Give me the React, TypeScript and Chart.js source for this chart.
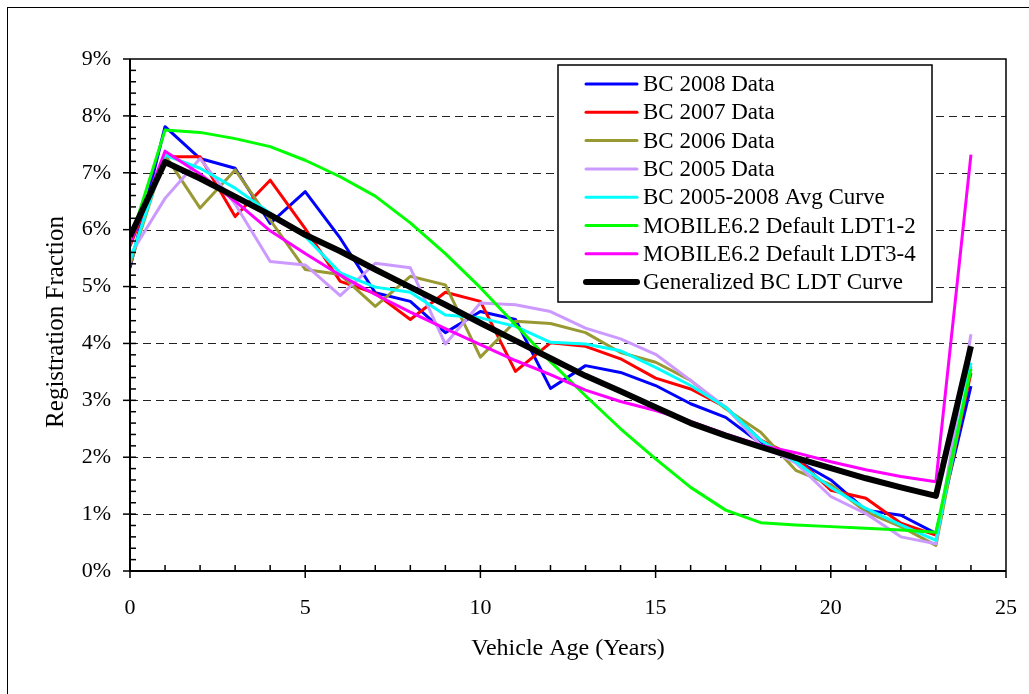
import React, { useEffect, useRef } from 'react';
import { Chart, registerables } from 'chart.js';

Chart.register(...registerables);

// Vehicle age in years
const ages = [0, 1, 2, 3, 4, 5, 6, 7, 8, 9, 10, 11, 12, 13, 14, 15, 16, 17, 18, 19, 20, 21, 22, 23, 24];

// Registration fraction (%) by vehicle age
const bc2008 = [5.33, 7.81, 7.25, 7.08, 6.11, 6.67, 5.85, 4.89, 4.74, 4.19, 4.56, 4.42, 3.21, 3.61, 3.49, 3.26, 2.94, 2.70, 2.24, 1.95, 1.60, 1.07, 0.98, 0.66, 3.25];
const bc2007 = [5.71, 7.28, 7.28, 6.23, 6.87, 6.02, 5.09, 4.88, 4.42, 4.90, 4.74, 3.51, 4.01, 3.95, 3.73, 3.39, 3.20, 2.88, 2.30, 2.00, 1.42, 1.28, 0.84, 0.63, 3.48];
const bc2006 = [5.38, 7.31, 6.38, 7.05, 6.17, 5.30, 5.21, 4.65, 5.18, 5.03, 3.76, 4.39, 4.35, 4.19, 3.84, 3.67, 3.35, 2.85, 2.44, 1.77, 1.52, 1.04, 0.78, 0.45, 3.60];
const bc2005 = [5.55, 6.55, 7.25, 6.45, 5.44, 5.38, 4.84, 5.41, 5.33, 3.99, 4.71, 4.68, 4.56, 4.27, 4.08, 3.81, 3.35, 2.88, 2.21, 1.90, 1.31, 1.01, 0.60, 0.48, 4.16];
const bcAvgCurve = [5.45, 7.31, 7.08, 6.73, 6.29, 5.88, 5.24, 4.99, 4.90, 4.50, 4.45, 4.30, 4.02, 3.99, 3.87, 3.58, 3.26, 2.88, 2.30, 1.92, 1.47, 1.10, 0.81, 0.54, 3.66];
const mobileLdt12 = [5.79, 7.75, 7.71, 7.60, 7.46, 7.22, 6.93, 6.59, 6.12, 5.58, 4.98, 4.33, 3.68, 3.08, 2.50, 1.97, 1.47, 1.07, 0.85, 0.81, 0.78, 0.75, 0.72, 0.68, 3.55];
const mobileLdt34 = [5.75, 7.38, 6.98, 6.50, 5.98, 5.58, 5.20, 4.86, 4.55, 4.26, 3.98, 3.70, 3.45, 3.18, 2.98, 2.82, 2.63, 2.41, 2.21, 2.08, 1.92, 1.78, 1.66, 1.57, 7.32];
const generalizedLdt = [5.88, 7.19, 6.90, 6.58, 6.26, 5.91, 5.62, 5.30, 4.99, 4.68, 4.36, 4.05, 3.74, 3.43, 3.16, 2.88, 2.60, 2.38, 2.18, 1.99, 1.81, 1.63, 1.47, 1.32, 3.95];

const seriesLabels = [
  'BC 2008 Data',
  'BC 2007 Data',
  'BC 2006 Data',
  'BC 2005 Data',
  'BC 2005-2008 Avg Curve',
  'MOBILE6.2 Default LDT1-2',
  'MOBILE6.2 Default LDT3-4',
  'Generalized BC LDT Curve',
];
const seriesValues = [bc2008, bc2007, bc2006, bc2005, bcAvgCurve, mobileLdt12, mobileLdt34, generalizedLdt];
const seriesColors = ['#0000ff', '#ff0000', '#999933', '#cc99ff', '#00ffff', '#00ff00', '#ff00ff', '#000000'];
const seriesWidths = [3, 3, 3, 3, 3, 3, 3, 6];

const yTickLabels = ['0%', '1%', '2%', '3%', '4%', '5%', '6%', '7%', '8%', '9%'];
const yTitle = 'Registration Fraction';
const xTitle = 'Vehicle Age (Years)';

const FONT = '"Liberation Serif", "Times New Roman", serif';

// Dashed gridlines, tick marks, the plot box and the vertical axis title
const axesPlugin = {
  id: 'axesPlugin',
  beforeDatasetsDraw(chart: any) {
    const { ctx, chartArea: a, scales } = chart;
    const y = scales.y;
    ctx.save();
    ctx.strokeStyle = '#222';
    ctx.lineWidth = 1;
    ctx.setLineDash([8, 5]);
    for (let v = 1; v <= 8; v++) {
      const py = Math.round(y.getPixelForValue(v)) + 0.5;
      ctx.beginPath();
      ctx.moveTo(a.left, py);
      ctx.lineTo(a.right, py);
      ctx.stroke();
    }
    ctx.restore();
  },
  afterDatasetsDraw(chart: any) {
    const { ctx, chartArea: a, scales } = chart;
    const x = scales.x;
    const y = scales.y;
    ctx.save();
    ctx.strokeStyle = '#000';
    // top and right edges of the plot box
    ctx.lineWidth = 1.5;
    ctx.beginPath();
    ctx.moveTo(a.left, a.top);
    ctx.lineTo(a.right, a.top);
    ctx.lineTo(a.right, a.bottom);
    ctx.stroke();
    // axis lines
    ctx.lineWidth = 2;
    ctx.beginPath();
    ctx.moveTo(a.left, a.top);
    ctx.lineTo(a.left, a.bottom);
    ctx.lineTo(a.right, a.bottom);
    ctx.stroke();
    // y ticks: majors every 1%, minors every 0.2%
    ctx.lineWidth = 1.5;
    for (let i = 0; i <= 45; i++) {
      const py = y.getPixelForValue(i / 5);
      const major = i % 5 === 0;
      ctx.beginPath();
      ctx.moveTo(major ? a.left - 7 : a.left, py);
      ctx.lineTo(i === 45 ? a.left : a.left + 6, py);
      ctx.stroke();
    }
    // x ticks: majors every 5 years, minors every year
    for (let i = 0; i <= 25; i++) {
      const px = x.getPixelForValue(i);
      const major = i % 5 === 0;
      ctx.beginPath();
      ctx.moveTo(px, major ? a.bottom + 7 : a.bottom);
      ctx.lineTo(px, i === 0 || i === 25 ? a.bottom : a.bottom - 6);
      ctx.stroke();
    }
    // vertical axis title
    ctx.fillStyle = '#000';
    ctx.font = `25px ${FONT}`;
    ctx.textAlign = 'center';
    ctx.textBaseline = 'middle';
    ctx.translate(56, 322);
    ctx.rotate(-Math.PI / 2);
    ctx.fillText(yTitle, 0, 0);
    ctx.restore();
  },
};

// Boxed legend inside the plot area
const legendPlugin = {
  id: 'boxLegend',
  afterDraw(chart: any) {
    const { ctx } = chart;
    const left = 558;
    const top = 65;
    const right = 932;
    const bottom = 302;
    ctx.save();
    ctx.fillStyle = '#fff';
    ctx.fillRect(left, top, right - left, bottom - top);
    ctx.strokeStyle = '#000';
    ctx.lineWidth = 1.5;
    ctx.strokeRect(left, top, right - left, bottom - top);
    ctx.font = `23px ${FONT}`;
    ctx.textBaseline = 'middle';
    ctx.textAlign = 'left';
    chart.data.datasets.forEach((ds: any, i: number) => {
      const cy = 84 + i * 28.3;
      ctx.strokeStyle = ds.borderColor;
      ctx.lineWidth = ds.borderWidth;
      ctx.lineCap = 'round';
      ctx.beginPath();
      ctx.moveTo(586, cy);
      ctx.lineTo(637, cy);
      ctx.stroke();
      ctx.fillStyle = '#000';
      ctx.fillText(ds.label, 643, cy + 1);
    });
    ctx.restore();
  },
};

export default function App() {
  const canvasRef = useRef<HTMLCanvasElement | null>(null);

  useEffect(() => {
    const canvas = canvasRef.current;
    if (!canvas) return;
    const datasets = seriesLabels.map((label, i) => ({
      label,
      data: ages.map((age, j) => ({ x: age, y: seriesValues[i][j] })),
      borderColor: seriesColors[i],
      backgroundColor: seriesColors[i],
      borderWidth: seriesWidths[i],
      pointRadius: 0,
      tension: 0,
      fill: false,
      borderJoinStyle: 'round' as const,
      order: seriesLabels.length - i,
    }));
    const chart = new Chart(canvas, {
      type: 'line',
      data: { datasets },
      options: {
        animation: false,
        responsive: false,
        layout: { padding: { left: 0, top: 59, right: 23, bottom: 0 } },
        plugins: {
          legend: { display: false },
          tooltip: { enabled: false },
        },
        scales: {
          x: {
            type: 'linear',
            min: 0,
            max: 25,
            grid: { display: false, drawTicks: false },
            border: { display: false },
            ticks: {
              stepSize: 5,
              color: '#000',
              padding: 24,
              font: { family: FONT, size: 22 },
            },
            title: {
              display: true,
              text: xTitle,
              color: '#000',
              font: { family: FONT, size: 24 },
              padding: { top: 0, bottom: 31 },
            },
            afterFit: (s: any) => {
              s.height = 123;
              s.paddingLeft = 0;
              s.paddingRight = 0;
            },
          },
          y: {
            type: 'linear',
            min: 0,
            max: 9,
            grid: { display: false, drawTicks: false },
            border: { display: false },
            ticks: {
              stepSize: 1,
              color: '#000',
              padding: 19,
              font: { family: FONT, size: 22 },
              callback: (v: any) => yTickLabels[Math.round(Number(v))],
            },
            title: { display: false },
            afterFit: (s: any) => {
              s.width = 130;
              s.paddingTop = 0;
              s.paddingBottom = 0;
            },
          },
        },
      },
      plugins: [axesPlugin, legendPlugin],
    });
    return () => chart.destroy();
  }, []);

  return (
    <div style={{ position: 'fixed', left: 0, top: 0, width: 1029, height: 694, background: '#fff', overflow: 'hidden' }}>
      <div
        style={{
          position: 'absolute',
          left: 7,
          top: 7,
          width: 1100,
          height: 800,
          border: '1px solid #000',
        }}
      />
      <canvas ref={canvasRef} width={1029} height={694} style={{ position: 'absolute', left: 0, top: 0 }} />
    </div>
  );
}
